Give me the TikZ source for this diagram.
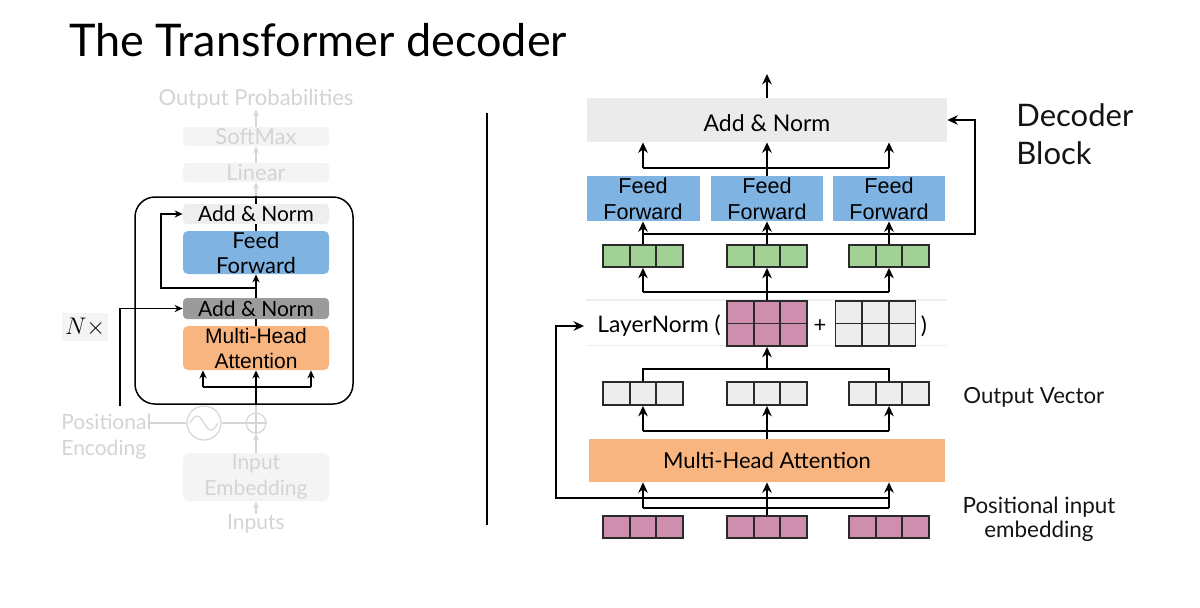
\documentclass[tikz,border=0pt]{standalone}
\usepackage{fontspec}
\setmainfont{Lato}
\newfontfamily\arialf{Liberation Sans}
\usetikzlibrary{arrows.meta,calc}

\definecolor{ffblue}{HTML}{7FB3E2}
\definecolor{mhaorange}{HTML}{F9B580}
\definecolor{andark}{HTML}{9B9B9B}
\definecolor{anlight}{HTML}{EBEBEB}
\definecolor{anlightl}{HTML}{EEEEEE}
\definecolor{cellgreen}{HTML}{A2D195}
\definecolor{cellpink}{HTML}{CE8EAE}
\definecolor{cellgray}{HTML}{EDEDED}
\definecolor{fadetext}{HTML}{D4D4D4}
\definecolor{fadeline}{HTML}{D6D6D6}
\definecolor{fadebox}{HTML}{F4F4F4}
\definecolor{bandline}{HTML}{EEEEEE}
\definecolor{celledge}{HTML}{2A2A2A}

\tikzset{
  lbox/.style={inner sep=0pt, align=center, minimum width=73pt, rounded corners=2pt,
    font=\fontsize{10.5}{12.5}\selectfont},
  fbox/.style={lbox, fill=fadebox, text=fadetext, font=\fontsize{11}{12.5}\selectfont},
  ftext/.style={inner sep=0pt, text=fadetext, align=center, font=\fontsize{11}{12.5}\selectfont},
  rbox/.style={inner sep=0pt, align=center, font=\fontsize{11.5}{13}\selectfont},
  larr/.style={line width=0.7pt, -{Stealth[length=4pt,width=3.6pt]}},
  lline/.style={line width=0.7pt},
  farr/.style={draw=fadeline, line width=0.6pt, -{Stealth[length=3.5pt,width=3pt]}},
  fline/.style={draw=fadeline, line width=0.6pt},
  rarr/.style={line width=1.1pt, -{Stealth[length=5.2pt,width=4.8pt]}},
  rline/.style={line width=1.1pt},
  cellgrp/.style={draw=celledge, line width=0.9pt, minimum width=40pt, minimum height=11pt,
    inner sep=0pt,
    path picture={
      \draw[celledge, line width=0.9pt]
        ($(path picture bounding box.north west)!1/3!(path picture bounding box.north east)$) --
        ($(path picture bounding box.south west)!1/3!(path picture bounding box.south east)$)
        ($(path picture bounding box.north west)!2/3!(path picture bounding box.north east)$) --
        ($(path picture bounding box.south west)!2/3!(path picture bounding box.south east)$);
    }},
  sidelbl/.style={inner sep=0pt, align=left, text=black!92},
}

\begin{document}
\begin{tikzpicture}[x=0.5pt,y=-0.5pt]
\useasboundingbox[fill=white] (0,0) rectangle (1200,607);

% ---------- title ----------
\node[anchor=base west, inner sep=0pt, font=\fontsize{22.5}{26}\selectfont] (title) at (69,56) {The Transformer decoder};

% ---------- left diagram ----------
\node[ftext] (outp) at (256,99) {Output Probabilities};
\node[fbox, minimum height=9.5pt] (soft) at (256,136.5) {SoftMax};
\node[fbox, minimum height=9.5pt] (lin) at (256,172.5) {Linear};
\node[draw, line width=0.75pt, rounded corners=10pt, minimum width=109pt, minimum height=103.5pt, inner sep=0pt] (blk) at (244,300.5) {};
\node[lbox, fill=anlightl, minimum height=10pt] (an2) at (256,214) {Add \& Norm};
\node[lbox, fill=ffblue, minimum height=21.5pt, rounded corners=2.5pt, font=\fontsize{11}{12.5}\selectfont] (lff) at (256,252.5) {Feed\\Forward};
\node[lbox, fill=andark, minimum height=10.5pt] (an1) at (256,308.5) {Add \& Norm};
\node[lbox, fill=mhaorange, minimum height=22pt, rounded corners=2.5pt, font=\arialf\fontsize{10.5}{12.5}\selectfont] (lmha) at (256,348) {Multi-Head\\Attention};
\node[circle, draw=fadeline, line width=0.6pt, minimum size=17pt, inner sep=0pt] (sine) at (204,423) {};
\draw[fadeline, line width=0.6pt, domain=-14:14, samples=40] plot ({204+\x},{423+7*sin(\x/14*180)});
\node[circle, draw=fadeline, line width=0.6pt, minimum size=10pt, inner sep=0pt] (plus) at (256,423) {};
\draw[fadeline, line width=0.6pt] (plus.north) -- (plus.south) (plus.west) -- (plus.east);
\node[fbox, minimum height=24pt, rounded corners=3pt, font=\fontsize{10.5}{13}\selectfont] (emb) at (256,477) {Input\\Embedding};
\node[ftext, font=\fontsize{10.5}{12.5}\selectfont] (inp) at (256,524) {Inputs};
\node[ftext, anchor=west, align=left, font=\fontsize{10.5}{13}\selectfont] (posenc) at (61,437) {Positional\\Encoding};
\node[fill=fadebox, minimum width=23pt, minimum height=14pt, inner sep=0pt, font=\fontsize{12}{14}\selectfont] (nx) at (85,327) {$N\times$};

\coordinate (lb1) at (203,387);
\coordinate (lb3) at (311,387);
\coordinate (r1s) at (120,406);
\coordinate (r2s) at (256,288);
\coordinate (r2c) at (161,288);
\coordinate (pe) at (150,423);

\draw[farr] (soft) -- (outp);
\draw[farr] (lin) -- (soft);
\draw[farr] (blk.north -| an2) -- (lin);
\draw[lline] (an2) -- (blk.north -| an2);
\draw[lline] (lff) -- (an2);
\draw[larr] (an1) -- (lff);
\draw[lline] (lmha) -- (an1);
\draw[farr] (emb) -- (plus);
\draw[farr] (inp) -- (emb);
\draw[fline] (plus) -- (blk.south -| plus);
\draw[larr] (blk.south -| plus) -- (lmha);
\draw[lline] (lb1) -- (lb3);
\draw[larr] (lb1) -- (lb1 |- lmha.south);
\draw[larr] (lb3) -- (lb3 |- lmha.south);
\draw[larr] (r1s) |- (an1.west);
\draw[larr] (r2s) -- (r2c) |- (an2.west);
\draw[fline] (pe) -- (sine);
\draw[fline] (sine) -- (plus);

% ---------- separator ----------
\coordinate (sepT) at (487,113);
\coordinate (sepB) at (487,525);
\draw[line width=1.4pt] (sepT) -- (sepB);

% ---------- right diagram ----------
\coordinate (rtop) at (767,74);
\node[rbox, fill=anlight, minimum width=180pt, minimum height=22pt, text height=11.5pt, text depth=0pt] (ran) at (767,120) {Add \& Norm};
\node[rbox, fill=ffblue, minimum width=56.5pt, minimum height=22.5pt, font=\arialf\fontsize{10.8}{13}\selectfont] (rff1) at (643,198.5) {Feed\\Forward};
\node[rbox, fill=ffblue, minimum width=56pt, minimum height=22.5pt, font=\arialf\fontsize{10.8}{13}\selectfont] (rff2) at (767,198.5) {Feed\\Forward};
\node[rbox, fill=ffblue, minimum width=56pt, minimum height=22.5pt, font=\arialf\fontsize{10.8}{13}\selectfont] (rff3) at (889,198.5) {Feed\\Forward};
\node[cellgrp, fill=cellgreen] (g1) at (643,256) {};
\node[cellgrp, fill=cellgreen] (g2) at (767,256) {};
\node[cellgrp, fill=cellgreen] (g3) at (889,256) {};

\coordinate (bandA1) at (586,300);
\coordinate (bandA2) at (947,300);
\coordinate (bandB1) at (586,345.5);
\coordinate (bandB2) at (947,345.5);
\draw[bandline, line width=0.6pt] (bandA1) -- (bandA2) (bandB1) -- (bandB2);

\node[cellgrp, fill=cellpink, minimum height=22.5pt] (pm) at (767,323.5) {};
\draw[celledge, line width=0.9pt] (pm.west) -- (pm.east);
\node[cellgrp, fill=cellgray, minimum height=22.5pt] (gm) at (875.5,323.5) {};
\draw[celledge, line width=0.9pt] (gm.west) -- (gm.east);
\node[anchor=west, inner xsep=6.5pt, inner ysep=0pt, font=\fontsize{11.4}{13}\selectfont] (ln) at (584,326) {LayerNorm (};
\node[inner sep=0pt, font=\fontsize{11}{12}\selectfont] (pl) at (820,326) {+};
\node[inner sep=0pt, font=\fontsize{11.4}{12}\selectfont] (rp) at (924,326) {)};

\node[cellgrp, fill=cellgray, minimum height=11.5pt] (o1) at (643,393.5) {};
\node[cellgrp, fill=cellgray, minimum height=11.5pt] (o2) at (767,393.5) {};
\node[cellgrp, fill=cellgray, minimum height=11.5pt] (o3) at (889,393.5) {};
\node[rbox, fill=mhaorange, minimum width=178pt, minimum height=21.5pt, font=\fontsize{11}{13}\selectfont] (rmha) at (767,460.5) {Multi-Head Attention};
\node[cellgrp, fill=cellpink] (p1) at (643,527) {};
\node[cellgrp, fill=cellpink] (p2) at (767,527) {};
\node[cellgrp, fill=cellpink] (p3) at (889,527) {};

\coordinate (h1L) at (643,168);
\coordinate (h1R) at (889,168);
\coordinate (res1) at (643,234);
\coordinate (res2) at (975,234);
\coordinate (h2L) at (643,292);
\coordinate (h2R) at (889,292);
\coordinate (h3L) at (643,369);
\coordinate (h3R) at (889,369);
\coordinate (h4L) at (643,431);
\coordinate (h4R) at (889,431);
\coordinate (h5L) at (643,508);
\coordinate (h5R) at (889,508);
\coordinate (lr1) at (889,498);
\coordinate (lr2) at (556,498);

\draw[rarr] (ran) -- (rtop);
\draw[rarr] (rff2) -- (ran);
\draw[rline] (h1L) -- (h1R);
\draw[rarr] (h1L) -- (h1L |- ran.south);
\draw[rarr] (h1R) -- (h1R |- ran.south);
\draw[rarr] (g1) -- (rff1);
\draw[rarr] (g2) -- (rff2);
\draw[rarr] (g3) -- (rff3);
\draw[rarr] (res1) -- (res2) |- (ran.east);
\draw[rline] (h2L) -- (h2R);
\draw[rarr] (h2L) -- (g1);
\draw[rarr] (h2R) -- (g3);
\draw[rarr] (pm) -- (g2);
\draw[rline] (o1.north) -- (h3L) -- (h3R) -- (o3.north);
\draw[rarr] (h3L -| pm) -- (pm);
\draw[rarr] (rmha) -- (o2);
\draw[rline] (h4L) -- (h4R);
\draw[rarr] (h4L) -- (o1);
\draw[rarr] (h4R) -- (o3);
\draw[rarr] (p2) -- (rmha);
\draw[rline] (h5L) -- (h5R);
\draw[rarr] (h5L) -- (h5L |- rmha.south);
\draw[rarr] (h5R) -- (h5R |- rmha.south);
\draw[rarr] (lr1) -- (lr2) |- (ln.west);

% ---------- right labels ----------
\node[sidelbl, anchor=west, font=\fontsize{15.5}{19}\selectfont] (dblock) at (1016,134) {Decoder\\Block};
\node[sidelbl, anchor=west, font=\fontsize{11.1}{12}\selectfont] (outvec) at (963,397) {Output Vector};
\node[sidelbl, align=center, font=\fontsize{11.2}{12}\selectfont] (posin) at (1039,519) {Positional input\\embedding};
\end{tikzpicture}
\end{document}
